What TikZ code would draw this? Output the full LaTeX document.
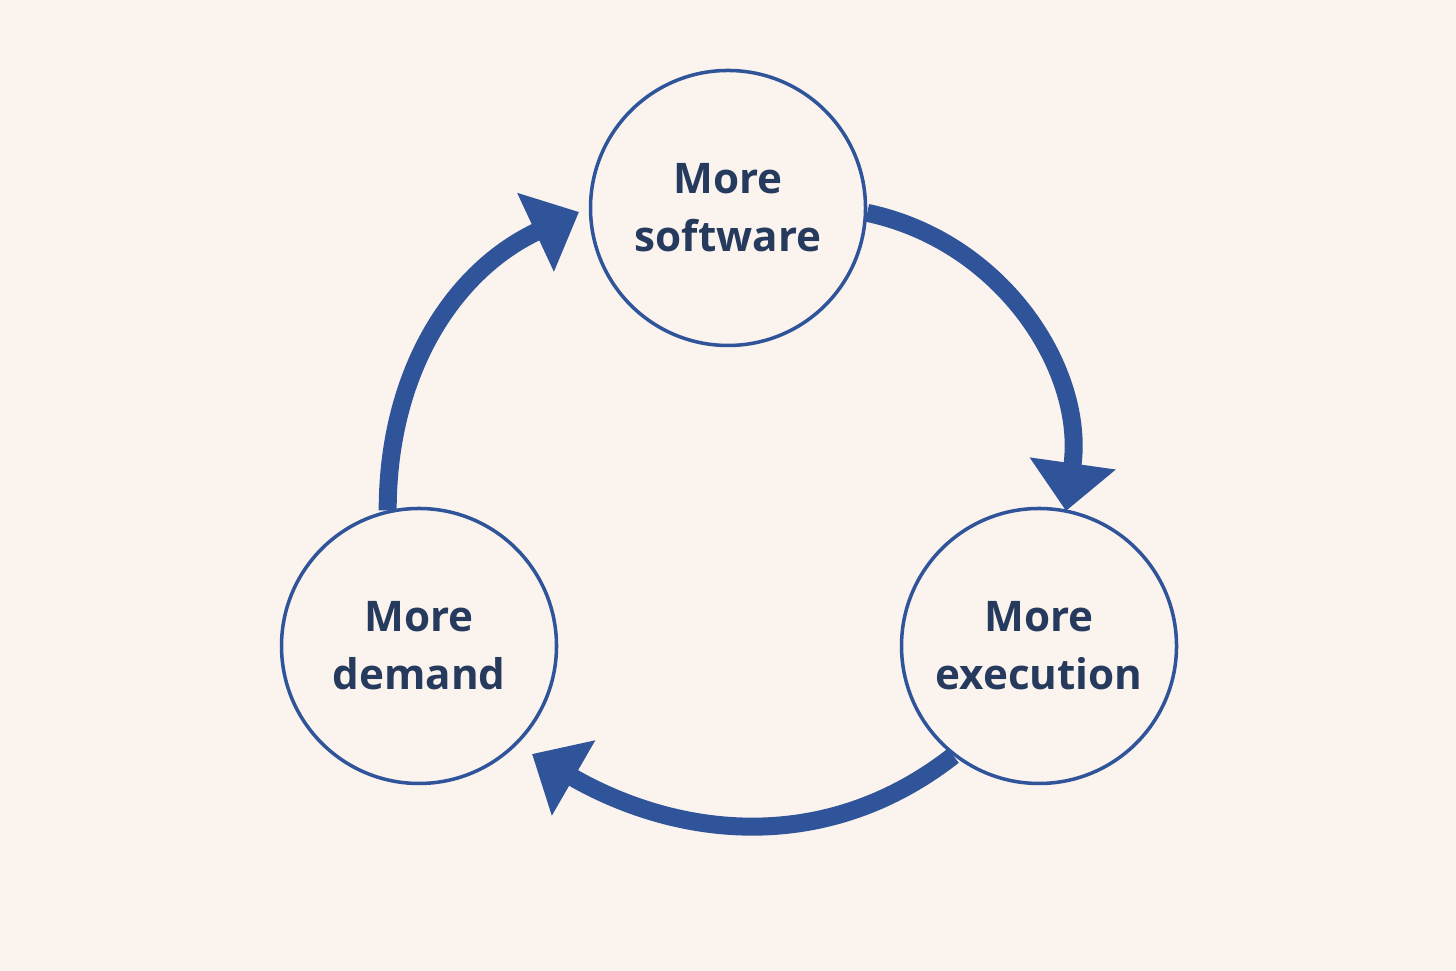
\documentclass[tikz,border=0pt]{standalone}
\usepackage{fontspec}
\setmainfont{Open Sans}
\usetikzlibrary{arrows.meta}
\definecolor{loopBg}{HTML}{FBF4EE}
\definecolor{loopBlue}{HTML}{30549A}
\definecolor{loopInk}{HTML}{263A5E}
\begin{document}
\begin{tikzpicture}[
    loopNd/.style={circle,draw=loopBlue,line width=1pt,minimum size=2.75cm,inner sep=0pt,align=center,text=loopInk,font=\bfseries\fontsize{12}{16.5}\selectfont},
    loopArr/.style={-{Triangle[width=0.84cm,length=0.48cm]},draw=loopBlue,line width=0.18cm},
]
\fill[loopBg] (0,0) rectangle (14.56,9.71);
\useasboundingbox (0,0) rectangle (14.56,9.71);
\node[loopNd] (soft) at (7.28,7.63) {More\\software};
\node[loopNd] (exec) at (10.39,3.25) {More\\execution};
\node[loopNd] (dem) at (4.19,3.25) {More\\demand};
\coordinate (softTip) at (10.66,4.60);
\coordinate (demTip) at (5.32,2.17);
\coordinate (execTip) at (5.79,7.59);
\draw[loopArr] (soft.-2) to[out=-12,in=82] (softTip);
\draw[loopArr] (exec.232) to[out=218,in=-30] (demTip);
\draw[loopArr] (dem.103) to[out=90,in=205] (execTip);
\end{tikzpicture}
\end{document}
